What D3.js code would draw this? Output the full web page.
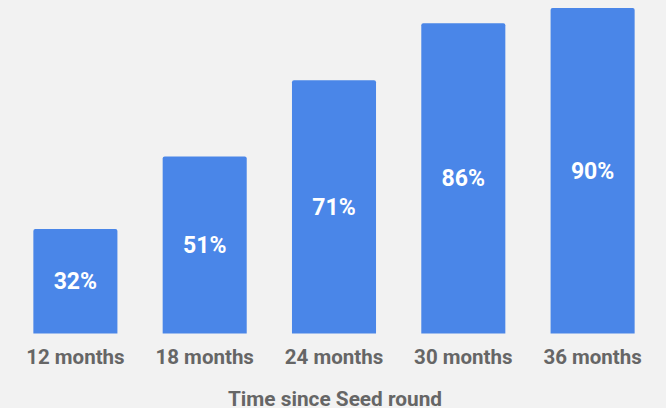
<!DOCTYPE html>
<html>
<head>
<meta charset="utf-8">
<script src="https://cdn.jsdelivr.net/npm/d3@7"></script>
<style>
  html, body { margin: 0; padding: 0; background: #f2f2f2; }
  svg { display: block; }
</style>
</head>
<body>
<svg id="chart" width="666" height="408"></svg>
<script>
// Share of companies, by time elapsed since their Seed round
const categories = ["12 months", "18 months", "24 months", "30 months", "36 months"];
const values = [32, 51, 71, 86, 90];
const axisTitle = "Time since Seed round";

const W = 666, H = 408;
const baseline = 333.5;          // bottom edge of the bars

const svg = d3.select("#chart");
svg.append("rect").attr("width", W).attr("height", H).attr("fill", "#f2f2f2");

const x = d3.scaleBand()
  .domain(categories)
  .range([0, 668])
  .paddingInner(0.35)
  .paddingOuter(0.258);

const y = d3.scaleLinear()
  .domain([0, 92])
  .range([350.8, 350.8 - 92 * 3.81]);

const data = categories.map((c, i) => ({ cat: c, val: values[i] }));

// bars with slightly rounded top corners
function barPath(d) {
  const x0 = x(d.cat), x1 = x0 + x.bandwidth();
  const t = y(d.val), b = baseline, r = 2;
  return `M${x0},${b}V${t + r}Q${x0},${t} ${x0 + r},${t}H${x1 - r}Q${x1},${t} ${x1},${t + r}V${b}Z`;
}

svg.append("g").selectAll("path")
  .data(data)
  .join("path")
  .attr("d", barPath)
  .attr("fill", "#4a86e8");

// value labels centred in each bar
svg.append("g").selectAll("text")
  .data(data)
  .join("text")
  .attr("x", d => x(d.cat) + x.bandwidth() / 2)
  .attr("y", d => (y(d.val) + baseline) / 2)
  .attr("dy", "0.35em")
  .attr("text-anchor", "middle")
  .attr("font-family", "Roboto, sans-serif")
  .attr("font-weight", "bold")
  .attr("font-size", 23)
  .attr("fill", "#ffffff")
  .text(d => d.val + "%");

// category axis
const xAxis = svg.append("g")
  .attr("transform", `translate(0,${baseline})`)
  .call(d3.axisBottom(x).tickSize(0).tickPadding(0));
xAxis.select(".domain").remove();
xAxis.selectAll("text")
  .attr("dy", null)
  .attr("y", 30.5)
  .attr("font-family", "Roboto, sans-serif")
  .attr("font-weight", "bold")
  .attr("font-size", 20.5)
  .attr("fill", "#666666");

// axis title
svg.append("text")
  .attr("x", 335)
  .attr("y", 405.5)
  .attr("text-anchor", "middle")
  .attr("font-family", "Roboto, sans-serif")
  .attr("font-weight", "bold")
  .attr("font-size", 20.8)
  .attr("fill", "#666666")
  .text(axisTitle);
</script>
</body>
</html>
